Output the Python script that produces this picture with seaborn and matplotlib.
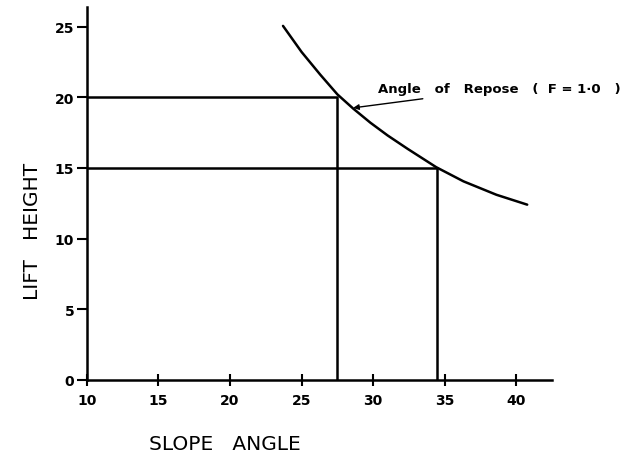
import matplotlib
matplotlib.use("Agg")
import matplotlib.pyplot as plt
import seaborn as sns
import pandas as pd

# Angle of repose curve (F = 1.0): slope angle vs lift height
slope_angle = [23.7, 25.0, 26.3, 27.5, 28.6, 29.8, 31.0, 32.4, 34.4, 36.3, 38.6, 40.75]
lift_height = [25.05, 23.2, 21.6, 20.2, 19.2, 18.2, 17.3, 16.35, 15.05, 14.05, 13.1, 12.4]

# Design lift heights and the slope angles
design_heights = [20, 15]
design_angles = [27.45, 34.45]

x_ticks = [10, 15, 20, 25, 30, 35, 40]
y_ticks = [0, 5, 10, 15, 20, 25]

sns.set_style("ticks")
plt.rcParams["font.family"] = ["DejaVu Sans"]
plt.rcParams["text.color"] = "black"
plt.rcParams["axes.labelcolor"] = "black"
plt.rcParams["xtick.color"] = "black"
plt.rcParams["ytick.color"] = "black"
plt.rcParams["axes.edgecolor"] = "black"

fig = plt.figure(figsize=(6.29, 4.60), dpi=100)
ax = fig.add_axes([0.138, 0.172, 0.740, 0.811])

curve = pd.DataFrame({"angle": slope_angle, "height": lift_height})
sns.lineplot(data=curve, x="angle", y="height", color="black", linewidth=1.8,
             sort=False, estimator=None, ax=ax)

for h, a in zip(design_heights, design_angles):
    guide = pd.DataFrame({"angle": [10, a, a], "height": [h, h, 0]})
    sns.lineplot(data=guide, x="angle", y="height", color="black", linewidth=1.8,
                 sort=False, estimator=None, ax=ax)

ax.annotate("Angle   of   Repose   (  F = 1·0   )", xy=(28.6, 19.25), xytext=(30.3, 20.6),
            fontsize=9.5, fontweight="bold", va="center", ha="left",
            arrowprops=dict(arrowstyle="-|>", color="black", lw=1.0,
                            shrinkA=1, shrinkB=0, mutation_scale=8))

ax.set_xlim(10, 42.5)
ax.set_ylim(0, 26.4)
ax.set_xticks(x_ticks)
ax.set_yticks(y_ticks)
ax.tick_params(axis="x", direction="inout", length=9, width=1.5, labelsize=10, pad=5)
ax.tick_params(axis="y", direction="out", length=7, width=1.5, labelsize=10, pad=2)
for lbl in ax.get_xticklabels() + ax.get_yticklabels():
    lbl.set_fontweight("bold")

ax.set_xlabel("SLOPE   ANGLE", fontsize=14.5)
ax.xaxis.set_label_coords(0.297, -0.145)
ax.set_ylabel("LIFT   HEIGHT", fontsize=14.5)
ax.yaxis.set_label_coords(-0.097, 0.40)

for side in ("top", "right"):
    ax.spines[side].set_visible(False)
for side in ("left", "bottom"):
    ax.spines[side].set_linewidth(1.8)

fig.savefig("out.png", dpi=100)
